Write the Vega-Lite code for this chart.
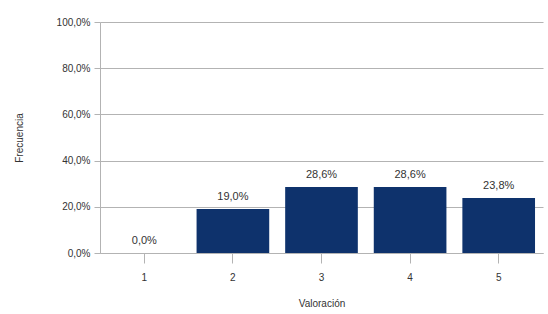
{
  "$schema": "https://vega.github.io/schema/vega-lite/v6.json",
  "autosize": {"type": "none"},
  "width": 443,
  "height": 231,
  "padding": {"left": 100, "top": 22, "right": 5, "bottom": 61},
  "background": "white",
  "config": {
    "locale": {"number": {"decimal": ",", "thousands": ".", "grouping": [3], "currency": ["", " €"]}},
    "view": {"stroke": null},
    "font": "Liberation Sans"
  },
  "data": {"values": [
    {"valoracion": "1", "frecuencia": 0.0},
    {"valoracion": "2", "frecuencia": 0.19},
    {"valoracion": "3", "frecuencia": 0.286},
    {"valoracion": "4", "frecuencia": 0.286},
    {"valoracion": "5", "frecuencia": 0.238}
  ]},
  "encoding": {
    "x": {"field": "valoracion", "type": "nominal", "title": "Valoración",
      "scale": {"paddingInner": 0.18, "paddingOuter": 0.09},
      "axis": {"labelAngle": 0, "domainColor": "#b3b3b3", "tickColor": "#b3b3b3", "ticks": true, "tickSize": 10, "labelPadding": 9, "labelFontSize": 10, "labelColor": "#333", "titleFontSize": 10, "titleFontWeight": "normal", "titleColor": "#333", "titlePadding": 16}},
    "y": {"field": "frecuencia", "type": "quantitative", "title": "Frecuencia",
      "scale": {"domain": [0, 1]},
      "axis": {"format": ".1%", "values": [0, 0.2, 0.4, 0.6, 0.8, 1], "gridColor": "#b3b3b3", "domainColor": "#b3b3b3", "tickColor": "#b3b3b3", "tickSize": 6, "labelPadding": 4, "labelFontSize": 10, "labelColor": "#333", "titleFontSize": 10, "titleFontWeight": "normal", "titleColor": "#333", "titleX": -76}}
  },
  "layer": [
    {"mark": {"type": "bar", "color": "#0e326c"}},
    {"mark": {"type": "text", "baseline": "bottom", "dy": -7, "fontSize": 11, "color": "#333"},
     "encoding": {"text": {"field": "frecuencia", "type": "quantitative", "format": ".1%"}}}
  ]
}
